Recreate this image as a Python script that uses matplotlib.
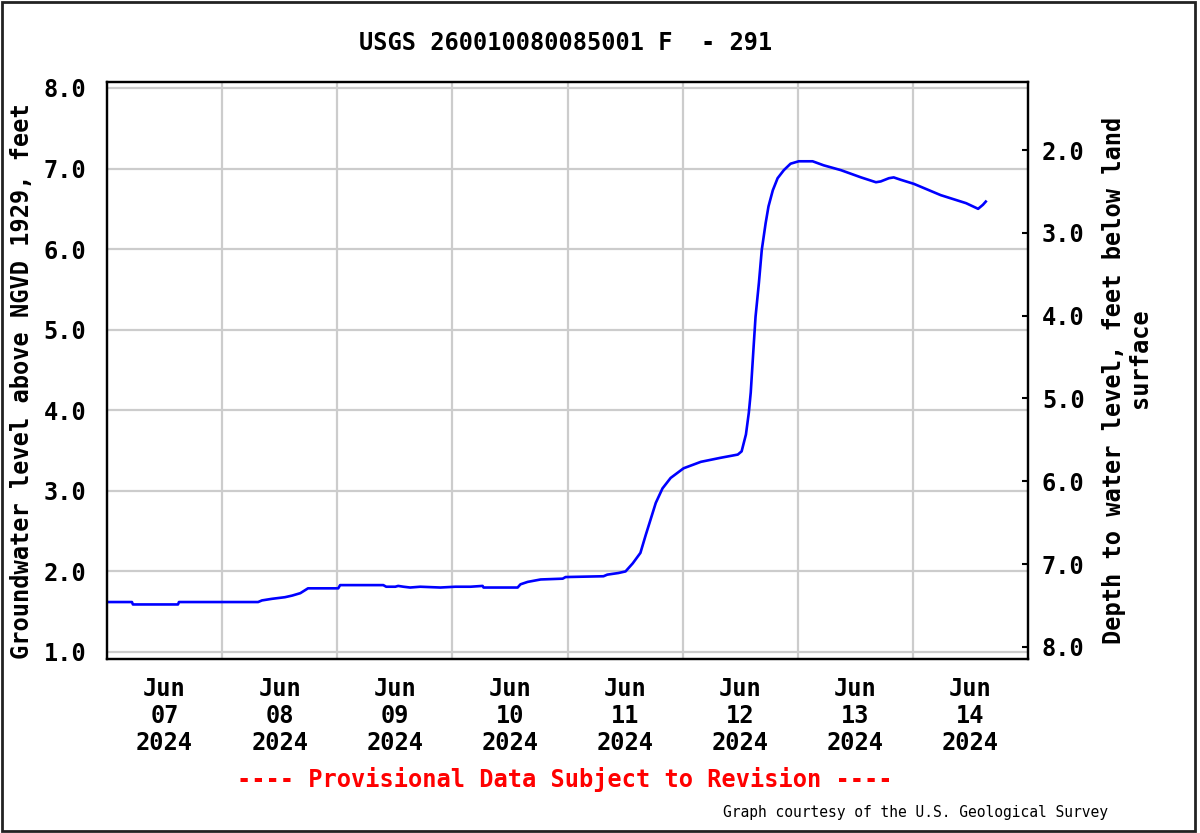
import numpy as np
import pandas as pd
import matplotlib
matplotlib.use("Agg")
import matplotlib.pyplot as plt
import matplotlib.dates as mdates
from matplotlib.patches import Rectangle

# Groundwater level readings, hours since 2024-06-07 00:00 and feet above NGVD 1929
hours = [0.0, 5.2, 5.4, 14.8, 15.0, 31.5, 32.3, 34.4, 37.1, 38.6, 40.3, 41.9,
         48.2, 48.6, 57.6, 58.2, 60.1, 60.7, 61.8, 63.2, 65.3, 69.5, 72.6,
         75.8, 78.3, 78.5, 85.6, 86.2, 87.7, 90.4, 95.0, 95.6, 103.5, 104.3,
         106.6, 108.1, 109.6, 111.2, 112.3, 113.3, 114.4, 115.8, 117.5, 120.2,
         123.8, 127.9, 131.5, 132.3, 133.2, 133.8, 134.2, 134.8, 135.2, 135.9,
         136.5, 137.3, 137.9, 138.8, 139.8, 141.1, 142.5, 144.2, 147.1, 149.4,
         153.0, 157.2, 160.3, 161.3, 163.0, 164.0, 165.5, 168.2, 173.8, 179.1,
         181.6, 182.6, 183.2]
level = [1.62, 1.62, 1.59, 1.59, 1.62, 1.62, 1.64, 1.66, 1.68, 1.70, 1.73, 1.79,
         1.79, 1.83, 1.83, 1.81, 1.81, 1.82, 1.81, 1.80, 1.81, 1.80, 1.81,
         1.81, 1.82, 1.80, 1.80, 1.84, 1.87, 1.90, 1.91, 1.93, 1.94, 1.96,
         1.98, 2.00, 2.10, 2.23, 2.45, 2.64, 2.85, 3.03, 3.16, 3.28,
         3.36, 3.41, 3.45, 3.49, 3.70, 3.97, 4.22, 4.79, 5.16, 5.58,
         5.99, 6.32, 6.53, 6.73, 6.88, 6.98, 7.06, 7.09, 7.09, 7.04,
         6.98, 6.89, 6.83, 6.84, 6.88, 6.89, 6.86, 6.81, 6.67, 6.57,
         6.50, 6.55, 6.59]

left_ticks = [1.0, 2.0, 3.0, 4.0, 5.0, 6.0, 7.0, 8.0]
right_ticks = [2.0, 3.0, 4.0, 5.0, 6.0, 7.0, 8.0]
day_labels = ["Jun\n07\n2024", "Jun\n08\n2024", "Jun\n09\n2024", "Jun\n10\n2024",
              "Jun\n11\n2024", "Jun\n12\n2024", "Jun\n13\n2024", "Jun\n14\n2024"]

start = pd.Timestamp("2024-06-07")
times = start + pd.to_timedelta(hours, unit="h")
days = pd.date_range(start, periods=9, freq="D")
noons = days[:-1] + pd.Timedelta(hours=12)

MONO = "DejaVu Sans Mono"
FS = 17
fig = plt.figure(figsize=(12, 8.33), dpi=100)
ax = fig.add_axes([107 / 1200, 1 - 659 / 833, 921 / 1200, 577 / 833])

ax.plot(times, level, color="#0000ff", linewidth=1.9)

ax.set_xlim(days[0], days[-1])
ax.set_ylim(0.913, 8.074)
ax.set_yticks(left_ticks)
ax.set_yticklabels([f"{v:.1f}" for v in left_ticks], fontfamily=MONO,
                   fontweight="bold", fontsize=FS)
ax.tick_params(axis="y", length=0, pad=15)

ax.set_xticks(noons)
ax.set_xticklabels(day_labels, fontfamily=MONO, fontweight="bold",
                   fontsize=FS, linespacing=1.15)
ax.set_xticks(days[1:-1], minor=True)
ax.tick_params(axis="x", which="both", length=0, pad=13)
ax.grid(True, axis="x", which="minor", color="#cccccc", linewidth=1.6)
ax.grid(True, axis="y", which="major", color="#cccccc", linewidth=1.6)
ax.grid(False, axis="x", which="major")
ax.set_axisbelow(True)
for sp in ax.spines.values():
    sp.set_linewidth(1.6)

ax2 = ax.twinx()
ax2.set_ylim(8.145, 1.179)
ax2.set_yticks(right_ticks)
ax2.set_yticklabels([f"{v:.1f}" for v in right_ticks], fontfamily=MONO,
                    fontweight="bold", fontsize=FS)
ax2.tick_params(axis="y", direction="in", length=4, width=1.5, pad=10)
for sp in ax2.spines.values():
    sp.set_linewidth(1.6)

fig.text(22 / 1200, 1 - 381 / 833, "Groundwater level above NGVD 1929, feet",
         rotation=90, ha="center", va="center", fontfamily=MONO,
         fontweight="bold", fontsize=FS)
fig.text(1114 / 1200, 1 - 380 / 833, "Depth to water level, feet below land",
         rotation=90, ha="center", va="center", fontfamily=MONO,
         fontweight="bold", fontsize=FS)
fig.text(1140 / 1200, 1 - 358 / 833, "surface",
         rotation=90, ha="center", va="center", fontfamily=MONO,
         fontweight="bold", fontsize=FS)

fig.text(566 / 1200, 1 - 43 / 833, "USGS 260010080085001 F  - 291",
         ha="center", va="center", fontfamily=MONO, fontweight="bold", fontsize=FS)
fig.text(565 / 1200, 1 - 780 / 833, "---- Provisional Data Subject to Revision ----",
         ha="center", va="center", color="#ff0000", fontfamily=MONO,
         fontweight="bold", fontsize=FS)
fig.text(1108 / 1200, 1 - 812 / 833, "Graph courtesy of the U.S. Geological Survey",
         ha="right", va="center", fontfamily=MONO, fontsize=10.5)

fig.patches.append(Rectangle((0.002, 0.003), 0.994, 0.994, transform=fig.transFigure,
                             fill=False, edgecolor="#222222", linewidth=2))

fig.savefig("out.png", dpi=100)
